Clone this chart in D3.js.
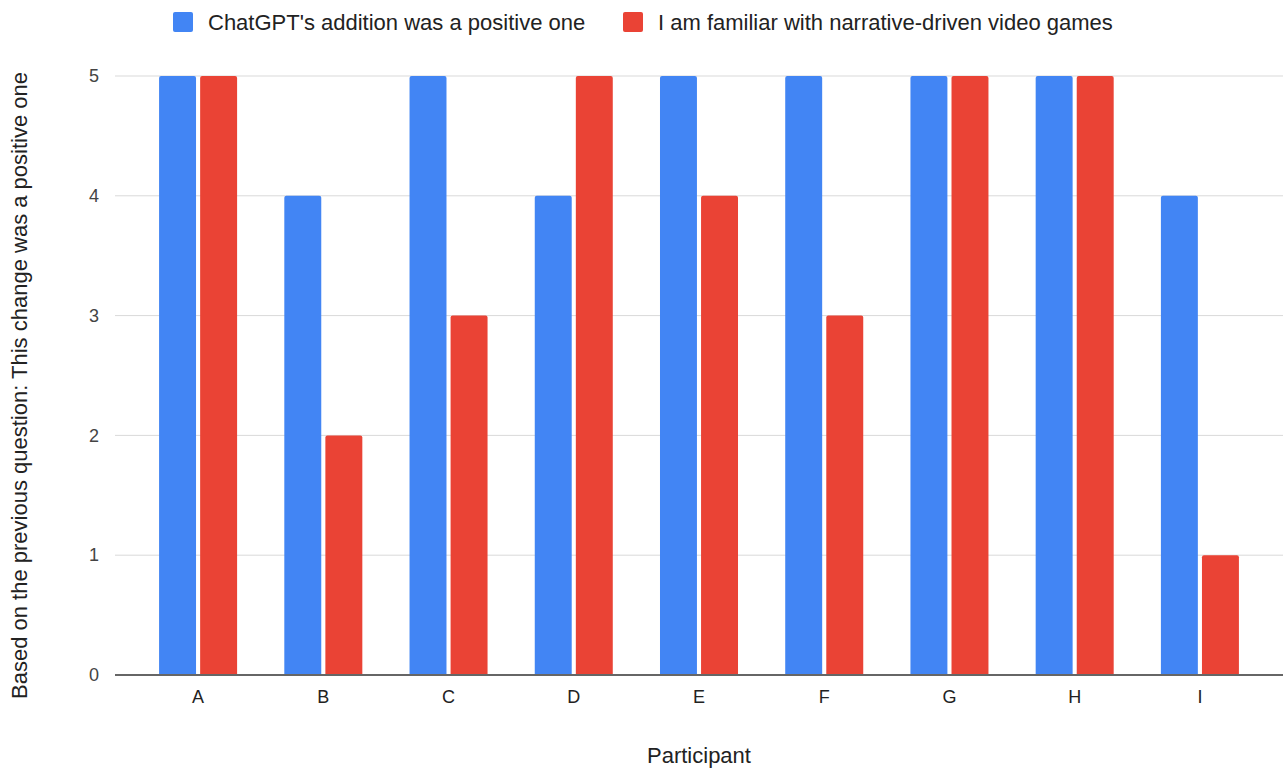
<!DOCTYPE html>
<html lang="en">
  <head>
    <meta charset="UTF-8" />
    <title>Participant ratings</title>
    <script src="https://d3js.org/d3.v7.min.js"></script>
    <style>
      html,
      body {
        margin: 0;
        padding: 0;
        background: #ffffff;
      }
      text {
        font-family: "Liberation Sans", Arial, sans-serif;
      }
    </style>
  </head>
  <body>
    <div id="viz"></div>
    <script>
      // chart data
      const participants = ["A", "B", "C", "D", "E", "F", "G", "H", "I"];
      const seriesNames = [
        "ChatGPT's addition was a positive one",
        "I am familiar with narrative-driven video games",
      ];
      const positiveAddition = [5, 4, 5, 4, 5, 5, 5, 5, 4];
      const familiarGames = [5, 2, 3, 5, 4, 3, 5, 5, 1];
      const yTicks = [0, 1, 2, 3, 4, 5];
      const colors = ["#4285f4", "#ea4335"];

      const width = 1285;
      const height = 769;
      const margin = { top: 76, right: 2, bottom: 94, left: 115 };
      const innerW = width - margin.left - margin.right;
      const innerH = height - margin.top - margin.bottom;

      const rows = participants.map((p, i) => ({
        name: p,
        values: [positiveAddition[i], familiarGames[i]],
      }));

      const svg = d3
        .select("#viz")
        .append("svg")
        .attr("width", width)
        .attr("height", height);

      const g = svg
        .append("g")
        .attr("transform", `translate(${margin.left},${margin.top})`);

      const xScale = d3
        .scaleBand()
        .domain(participants)
        .range([0, innerW])
        .paddingInner(0.377)
        .paddingOuter(0.352);

      const xSub = d3
        .scaleBand()
        .domain([0, 1])
        .range([0, xScale.bandwidth()])
        .paddingInner(0.1);

      const yScale = d3.scaleLinear().domain([0, 5]).range([innerH, 0]);

      // gridlines
      g.append("g")
        .selectAll("line")
        .data(yTicks.filter((t) => t > 0))
        .join("line")
        .attr("x1", 0)
        .attr("x2", innerW)
        .attr("y1", (d) => yScale(d))
        .attr("y2", (d) => yScale(d))
        .attr("stroke", "#d9d9d9")
        .attr("stroke-width", 1);

      // y axis labels
      const yAxis = d3
        .axisLeft(yScale)
        .tickValues(yTicks)
        .tickSize(0)
        .tickPadding(16)
        .tickFormat(d3.format("d"));
      g.append("g")
        .call(yAxis)
        .call((s) => s.select(".domain").remove())
        .selectAll("text")
        .attr("font-size", 18)
        .attr("fill", "#444");

      // bars
      const groups = g
        .selectAll("g.participant")
        .data(rows)
        .join("g")
        .attr("class", "participant")
        .attr("transform", (d) => `translate(${xScale(d.name)},0)`);

      groups
        .selectAll("path")
        .data((d) => d.values.map((v, i) => ({ v, i })))
        .join("path")
        .attr("fill", (d) => colors[d.i])
        .attr("d", (d) => {
          const x0 = xSub(d.i);
          const w = xSub.bandwidth();
          const y0 = yScale(d.v);
          const y1 = yScale(0);
          const r = 2;
          return `M${x0},${y1}V${y0 + r}Q${x0},${y0} ${x0 + r},${y0}H${x0 + w - r}Q${x0 + w},${y0} ${x0 + w},${y0 + r}V${y1}Z`;
        });

      // baseline
      g.append("line")
        .attr("x1", 0)
        .attr("x2", innerW)
        .attr("y1", yScale(0))
        .attr("y2", yScale(0))
        .attr("stroke", "#666")
        .attr("stroke-width", 2);

      // x axis labels
      const xAxis = d3.axisBottom(xScale).tickSize(0).tickPadding(15);
      g.append("g")
        .attr("transform", `translate(0,${innerH})`)
        .call(xAxis)
        .call((s) => s.select(".domain").remove())
        .selectAll("text")
        .attr("font-size", 18)
        .attr("fill", "#222");

      // axis titles
      svg
        .append("text")
        .attr("x", margin.left + innerW / 2)
        .attr("y", 763)
        .attr("text-anchor", "middle")
        .attr("font-size", 22)
        .attr("fill", "#222")
        .text("Participant");

      svg
        .append("text")
        .attr("transform", `translate(27,${margin.top + innerH / 2 + 10}) rotate(-90)`)
        .attr("text-anchor", "middle")
        .attr("font-size", 22)
        .attr("fill", "#222")
        .text("Based on the previous question: This change was a positive one");

      // legend
      const legendX = [173, 623];
      const legend = svg
        .selectAll("g.legend")
        .data(seriesNames)
        .join("g")
        .attr("class", "legend")
        .attr("transform", (d, i) => `translate(${legendX[i]},12)`);

      legend
        .append("rect")
        .attr("width", 20)
        .attr("height", 20)
        .attr("rx", 2)
        .attr("fill", (d, i) => colors[i]);

      legend
        .append("text")
        .attr("x", 35)
        .attr("y", 10)
        .attr("dy", "0.35em")
        .attr("font-size", 22)
        .attr("fill", "#222")
        .text((d) => d);
    </script>
  </body>
</html>
